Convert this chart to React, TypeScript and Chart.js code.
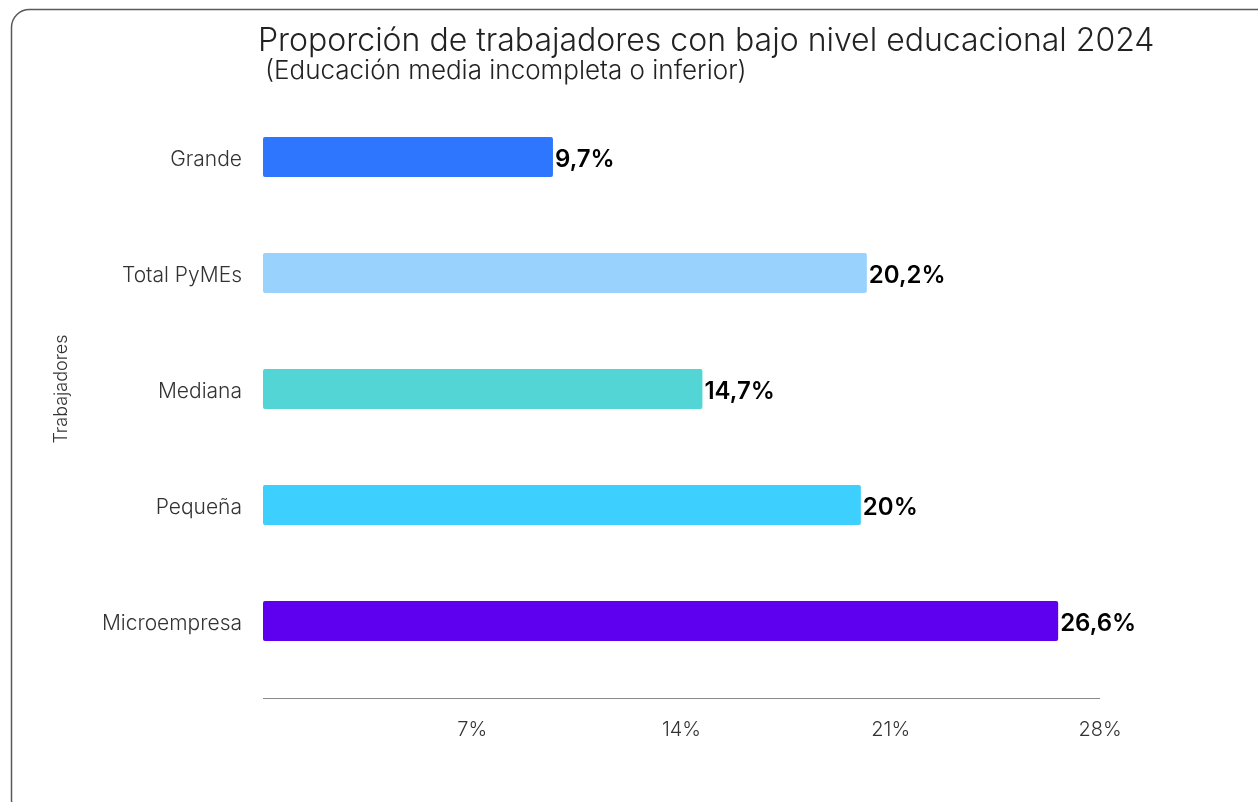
import React, { useEffect, useRef } from "react";
import { Chart, registerables } from "chart.js";

Chart.register(...registerables);

const categories = ["Grande", "Total PyMEs", "Mediana", "Pequeña", "Microempresa"];
const values = [9.7, 20.2, 14.7, 20, 26.6];
const barColors = ["#2F76FF", "#9AD2FE", "#54D5D5", "#3DD0FE", "#5E00EF"];
const tickValues = [0, 7, 14, 21, 28];
const titleText = "Proporción de trabajadores con bajo nivel educacional 2024";
const subtitleText = "(Educación media incompleta o inferior)";
const yAxisTitle = "Trabajadores";

const FONT = "Inter, 'Noto Sans', sans-serif";

const framePlugin = {
  id: "frame",
  beforeDraw(chart: any) {
    const ctx = chart.ctx;
    ctx.save();
    ctx.fillStyle = "#ffffff";
    ctx.fillRect(0, 0, chart.width, chart.height);
    ctx.strokeStyle = "#5a5a5a";
    ctx.lineWidth = 1.5;
    ctx.beginPath();
    ctx.roundRect(11.5, 9.5, 1290, 808, 18);
    ctx.stroke();
    ctx.restore();
  },
};

const titlesPlugin = {
  id: "titles",
  afterDraw(chart: any) {
    const ctx = chart.ctx;
    const left = chart.chartArea.left;
    ctx.save();
    ctx.fillStyle = "#222222";
    ctx.textAlign = "left";
    ctx.textBaseline = "alphabetic";
    ctx.font = `300 32px ${FONT}`;
    ctx.fillText(titleText, left - 5, 51);
    ctx.font = `300 26px ${FONT}`;
    ctx.fillText(subtitleText, left + 2, 79);
    ctx.restore();
  },
};

const axisLinePlugin = {
  id: "axisLine",
  afterDraw(chart: any) {
    const ctx = chart.ctx;
    const { left, right, bottom } = chart.chartArea;
    ctx.save();
    ctx.strokeStyle = "#8a8a8a";
    ctx.lineWidth = 1.2;
    ctx.beginPath();
    ctx.moveTo(left, bottom + 19.5);
    ctx.lineTo(right, bottom + 19.5);
    ctx.stroke();
    ctx.restore();
  },
};

const valueLabelPlugin = {
  id: "valueLabels",
  afterDatasetsDraw(chart: any) {
    const ctx = chart.ctx;
    const meta = chart.getDatasetMeta(0);
    ctx.save();
    ctx.fillStyle = "#000000";
    ctx.font = `600 24px ${FONT}`;
    ctx.textAlign = "left";
    ctx.textBaseline = "middle";
    meta.data.forEach((bar: any, i: number) => {
      const v = values[i];
      const label = String(v).replace(".", ",") + "%";
      ctx.fillText(label, bar.x + 2, bar.y + 3);
    });
    ctx.restore();
  },
};

export default function App() {
  const canvasRef = useRef<HTMLCanvasElement | null>(null);

  useEffect(() => {
    if (!canvasRef.current) return;
    const chart = new Chart(canvasRef.current, {
      type: "bar",
      data: {
        labels: categories,
        datasets: [
          {
            data: values,
            backgroundColor: barColors,
            borderRadius: 2,
            borderSkipped: false,
            barPercentage: 0.345,
            categoryPercentage: 1,
          },
        ],
      },
      options: {
        indexAxis: "y",
        responsive: false,
        animation: false,
        layout: { padding: { left: 44, right: 158, top: 99, bottom: 23 } },
        plugins: {
          legend: { display: false },
          tooltip: { enabled: false },
          title: { display: false },
        },
        scales: {
          x: {
            min: 0,
            max: 28,
            afterBuildTicks(scale: any) {
              scale.ticks = tickValues.map((v) => ({ value: v }));
            },
            afterFit(scale: any) {
              scale.height = 100;
            },
            grid: { display: false },
            border: { display: false },
            ticks: {
              padding: 31,
              color: "#333333",
              font: { family: FONT, size: 20, weight: "300" },
              callback: (v: any) => (Number(v) === 0 ? "" : `${v}%`),
            },
          },
          y: {
            afterFit(scale: any) {
              scale.width = 219;
            },
            grid: { display: false },
            border: { display: false },
            ticks: {
              padding: 13,
              labelOffset: 3,
              color: "#333333",
              font: { family: FONT, size: 21, weight: "300" },
            },
            title: {
              display: true,
              text: yAxisTitle,
              color: "#333333",
              padding: { top: 7, bottom: 0 },
              font: { family: FONT, size: 18, weight: "300" },
            },
          },
        },
      },
      plugins: [framePlugin, axisLinePlugin, valueLabelPlugin, titlesPlugin],
    } as any);
    return () => chart.destroy();
  }, []);

  return (
    <div style={{ position: "fixed", left: 0, top: 0, width: 1258, height: 802, overflow: "hidden", background: "#fff" }}>
      <canvas ref={canvasRef} width={1258} height={802} style={{ display: "block", width: 1258, height: 802 }} />
    </div>
  );
}
